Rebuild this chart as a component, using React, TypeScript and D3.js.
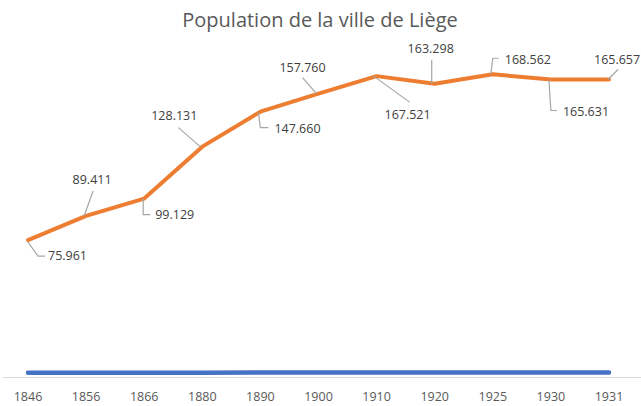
import React from "react";
import * as d3 from "d3";

const years = ["1846", "1856", "1866", "1880", "1890", "1900", "1910", "1920", "1925", "1930", "1931"];
const population = [75961, 89411, 99129, 128131, 147660, 157760, 167521, 163298, 168562, 165631, 165657];
const yearValues = [1846, 1856, 1866, 1880, 1890, 1900, 1910, 1920, 1925, 1930, 1931];
const title = "Population de la ville de Liège";

// label placement (layout, relative to each data point)
const labelLayout: { dx: number; dy: number; anchor: string; leader: [number, number][] }[] = [
  { dx: 20, dy: 16, anchor: "start", leader: [[0, 2], [10, 16], [17, 16]] },
  { dx: 6, dy: -36, anchor: "middle", leader: [[-2, 0], [7, -25]] },
  { dx: 11, dy: 16, anchor: "start", leader: [[-1, 0], [-1, 16], [6, 16]] },
  { dx: -28, dy: -31, anchor: "middle", leader: [[-2, 0], [-24, -19]] },
  { dx: 14, dy: 17, anchor: "start", leader: [[-2, 1], [0, 16], [8, 16]] },
  { dx: -16, dy: -26, anchor: "middle", leader: [[-2, 0], [-16, -16]] },
  { dx: 31, dy: 38, anchor: "middle", leader: [[-3, 0], [33, 26]] },
  { dx: -4, dy: -35, anchor: "middle", leader: [[-3, 0], [-3, -24]] },
  { dx: 12, dy: -15, anchor: "start", leader: [[-2, 0], [0, -16], [6, -16]] },
  { dx: 12, dy: 32, anchor: "start", leader: [[-2, 0], [0, 31], [6, 31]] },
  { dx: -15, dy: -20, anchor: "start", leader: [[-1, 0], [9, -10]] },
];

const W = 641;
const H = 406;
const FONT = "'Open Sans', sans-serif";

export default function App() {
  const x = d3.scalePoint<string>().domain(years).range([28, 609]);
  const y = d3.scaleLinear().domain([0, 200000]).range([376, 18]);
  const fmt = d3.formatLocale({ decimal: ",", thousands: ".", grouping: [3], currency: ["", "€"] }).format(",d");

  const line = d3
    .line<number>()
    .x((_, i) => x(years[i]) as number)
    .y((d) => y(d));

  return (
    <svg
      width={W}
      height={H}
      style={{ position: "absolute", left: 0, top: 0, background: "#fff" }}
      fontFamily={FONT}
    >
      <text x={320} y={27} textAnchor="middle" fontSize={20} fill="#595959">
        {title}
      </text>
      <line x1={3} x2={641} y1={377.5} y2={377.5} stroke="#D9D9D9" strokeWidth={1} />
      {years.map((yr) => (
        <text key={yr} x={x(yr)} y={401} textAnchor="middle" fontSize={12.5} fill="#595959">
          {yr}
        </text>
      ))}
      <path d={line(yearValues) || ""} fill="none" stroke="#4472C4" strokeWidth={4.5} strokeLinecap="round" />
      <path d={line(population) || ""} fill="none" stroke="#ED7D31" strokeWidth={4} strokeLinejoin="round" strokeLinecap="round" />
      {population.map((v, i) => {
        const px = x(years[i]) as number;
        const py = y(v);
        const L = labelLayout[i];
        const pts = L.leader.map(([a, b]) => `${px + a},${py + b}`).join(" ");
        return (
          <g key={i}>
            <polyline points={pts} fill="none" stroke="#A6A6A6" strokeWidth={1.2} />
            <text
              x={px + L.dx}
              y={py + L.dy}
              dy="0.35em"
              textAnchor={L.anchor as any}
              fontSize={12.5}
              fill="#404040"
            >
              {fmt(v)}
            </text>
          </g>
        );
      })}
    </svg>
  );
}
